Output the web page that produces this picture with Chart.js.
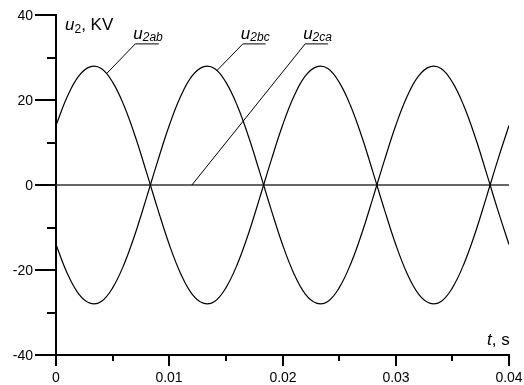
<!DOCTYPE html>
<html>
<head>
<meta charset="utf-8">
<script src="https://cdn.jsdelivr.net/npm/chart.js@4"></script>
<style>
  html, body { margin: 0; padding: 0; background: #fff; }
  #wrap { width: 524px; height: 385px; }
</style>
</head>
<body>
<div id="wrap"><canvas id="c"></canvas></div>
<script>
// Time axis (s)
const times = [0.000, 0.001, 0.002, 0.003, 0.004, 0.005, 0.006, 0.007, 0.008, 0.009,
               0.010, 0.011, 0.012, 0.013, 0.014, 0.015, 0.016, 0.017, 0.018, 0.019,
               0.020, 0.021, 0.022, 0.023, 0.024, 0.025, 0.026, 0.027, 0.028, 0.029,
               0.030, 0.031, 0.032, 0.033, 0.034, 0.035, 0.036, 0.037, 0.038, 0.039,
               0.040];

// Line voltages, kV
const u2ab = [14.0, 20.8, 25.6, 27.8, 27.4, 24.2, 18.7, 11.4, 2.9, -5.8,
              -14.0, -20.8, -25.6, -27.8, -27.4, -24.2, -18.7, -11.4, -2.9, 5.8,
              14.0, 20.8, 25.6, 27.8, 27.4, 24.2, 18.7, 11.4, 2.9, -5.8,
              -14.0, -20.8, -25.6, -27.8, -27.4, -24.2, -18.7, -11.4, -2.9, 5.8,
              14.0];
const u2bc = [-14.0, -20.8, -25.6, -27.8, -27.4, -24.2, -18.7, -11.4, -2.9, 5.8,
              14.0, 20.8, 25.6, 27.8, 27.4, 24.2, 18.7, 11.4, 2.9, -5.8,
              -14.0, -20.8, -25.6, -27.8, -27.4, -24.2, -18.7, -11.4, -2.9, 5.8,
              14.0, 20.8, 25.6, 27.8, 27.4, 24.2, 18.7, 11.4, 2.9, -5.8,
              -14.0];
const u2ca = [0, 0, 0, 0, 0, 0, 0, 0, 0, 0,
              0, 0, 0, 0, 0, 0, 0, 0, 0, 0,
              0, 0, 0, 0, 0, 0, 0, 0, 0, 0,
              0, 0, 0, 0, 0, 0, 0, 0, 0, 0,
              0];

// Tick values and their labels
const xMajor = [0, 0.01, 0.02, 0.03, 0.04];
const xMajorLabels = ['0', '0.01', '0.02', '0.03', '0.04'];
const xMinor = [0.005, 0.015, 0.025, 0.035];
const yMajor = [40, 20, 0, -20, -40];
const yMajorLabels = ['40', '20', '0', '-20', '-40'];
const yMinor = [30, 10, -10, -30];

// Curve labels: subscript text, point on the curve, corner of the label underline (data units)
const labelSubs   = ['2ab', '2bc', '2ca'];
const labelPoints = [[0.0045, 26.3], [0.0142, 26.9], [0.0120, 0]];
const labelCorners = [[0.0070, 33.2], [0.0165, 33.2], [0.0220, 33.2]];

const FONT = '"Liberation Sans", Arial, sans-serif';

function pts(ys) { return times.map((t, i) => ({ x: t, y: ys[i] })); }

const decorations = {
  id: 'decorations',
  afterDraw(chart) {
    const ctx = chart.ctx;
    const xs = chart.scales.x, ys = chart.scales.y;
    const a = chart.chartArea;
    ctx.save();
    ctx.strokeStyle = '#000';
    ctx.fillStyle = '#000';
    ctx.lineWidth = 2;
    ctx.lineCap = 'butt';
    ctx.font = '14px ' + FONT;
    // y ticks (outside, to the left) and labels
    ctx.textAlign = 'right';
    ctx.textBaseline = 'middle';
    yMajor.forEach((v, i) => {
      const y = Math.round(ys.getPixelForValue(v));
      ctx.beginPath(); ctx.moveTo(a.left - 21, y); ctx.lineTo(a.left, y); ctx.stroke();
      ctx.fillText(yMajorLabels[i], a.left - 23, y + 1);
    });
    yMinor.forEach(v => {
      const y = Math.round(ys.getPixelForValue(v));
      ctx.beginPath(); ctx.moveTo(a.left - 9, y); ctx.lineTo(a.left, y); ctx.stroke();
    });
    // x ticks (outside, downward) and labels
    ctx.textAlign = 'center';
    ctx.textBaseline = 'alphabetic';
    xMajor.forEach((v, i) => {
      const x = Math.round(xs.getPixelForValue(v));
      ctx.beginPath(); ctx.moveTo(x, a.bottom); ctx.lineTo(x, a.bottom + 11); ctx.stroke();
      ctx.fillText(xMajorLabels[i], x, a.bottom + 27);
    });
    xMinor.forEach(v => {
      const x = Math.round(xs.getPixelForValue(v));
      ctx.beginPath(); ctx.moveTo(x, a.bottom); ctx.lineTo(x, a.bottom + 6); ctx.stroke();
    });

    // Curve labels with leader lines
    ctx.textAlign = 'left';
    ctx.lineWidth = 1;
    labelSubs.forEach((sub, i) => {
      const px = xs.getPixelForValue(labelPoints[i][0]);
      const py = ys.getPixelForValue(labelPoints[i][1]);
      const cx = xs.getPixelForValue(labelCorners[i][0]);
      const cy = ys.getPixelForValue(labelCorners[i][1]);
      ctx.font = 'italic 17px ' + FONT;
      const wu = ctx.measureText('u').width;
      ctx.font = 'italic 12px ' + FONT;
      const ws = ctx.measureText(sub).width;
      const tx = cx - 2;
      const base = cy - 5;
      ctx.font = 'italic 17px ' + FONT;
      ctx.fillText('u', tx, base);
      ctx.font = 'italic 12px ' + FONT;
      ctx.fillText(sub, tx + wu, base + 2);
      ctx.beginPath();
      ctx.moveTo(px, py);
      ctx.lineTo(cx, cy);
      ctx.lineTo(cx + wu + ws - 6, cy);
      ctx.stroke();
    });

    // Axis titles
    let x0 = a.left + 9, b0 = a.top + 15;
    ctx.font = 'italic 17px ' + FONT;
    ctx.fillText('u', x0, b0);
    let w = ctx.measureText('u').width;
    ctx.font = '12px ' + FONT;
    ctx.fillText('2', x0 + w, b0 + 3);
    w += ctx.measureText('2').width;
    ctx.font = '17px ' + FONT;
    ctx.fillText(', KV', x0 + w, b0);

    let x1 = a.right - 22, b1 = a.bottom - 10;
    ctx.font = 'italic 17px ' + FONT;
    ctx.fillText('t', x1, b1);
    w = ctx.measureText('t').width;
    ctx.font = '17px ' + FONT;
    ctx.fillText(', s', x1 + w, b1);
    ctx.restore();
  }
};

new Chart(document.getElementById('c'), {
  type: 'line',
  data: {
    datasets: [
      { label: 'u2ab', data: pts(u2ab), borderColor: '#000', borderWidth: 1.2, tension: 0.4, pointRadius: 0, fill: false },
      { label: 'u2bc', data: pts(u2bc), borderColor: '#000', borderWidth: 1.2, tension: 0.4, pointRadius: 0, fill: false },
      { label: 'u2ca', data: pts(u2ca), borderColor: '#333', borderWidth: 1.5, tension: 0, pointRadius: 0, fill: false }
    ]
  },
  options: {
    responsive: true,
    maintainAspectRatio: false,
    animation: false,
    devicePixelRatio: 1,
    layout: { padding: { top: 15, right: 15, left: 0, bottom: 0 } },
    plugins: { legend: { display: false }, tooltip: { enabled: false } },
    scales: {
      x: {
        type: 'linear', min: 0, max: 0.04,
        grid: { display: false, drawTicks: false },
        border: { display: true, color: '#000', width: 2 },
        ticks: { display: false, stepSize: 0.01 },
        afterFit(s) { s.height = 30; }
      },
      y: {
        min: -40, max: 40,
        grid: { display: false, drawTicks: false },
        border: { display: true, color: '#000', width: 2 },
        ticks: { display: false, stepSize: 20 },
        afterFit(s) { s.width = 56; }
      }
    }
  },
  plugins: [decorations]
});
</script>
</body>
</html>
